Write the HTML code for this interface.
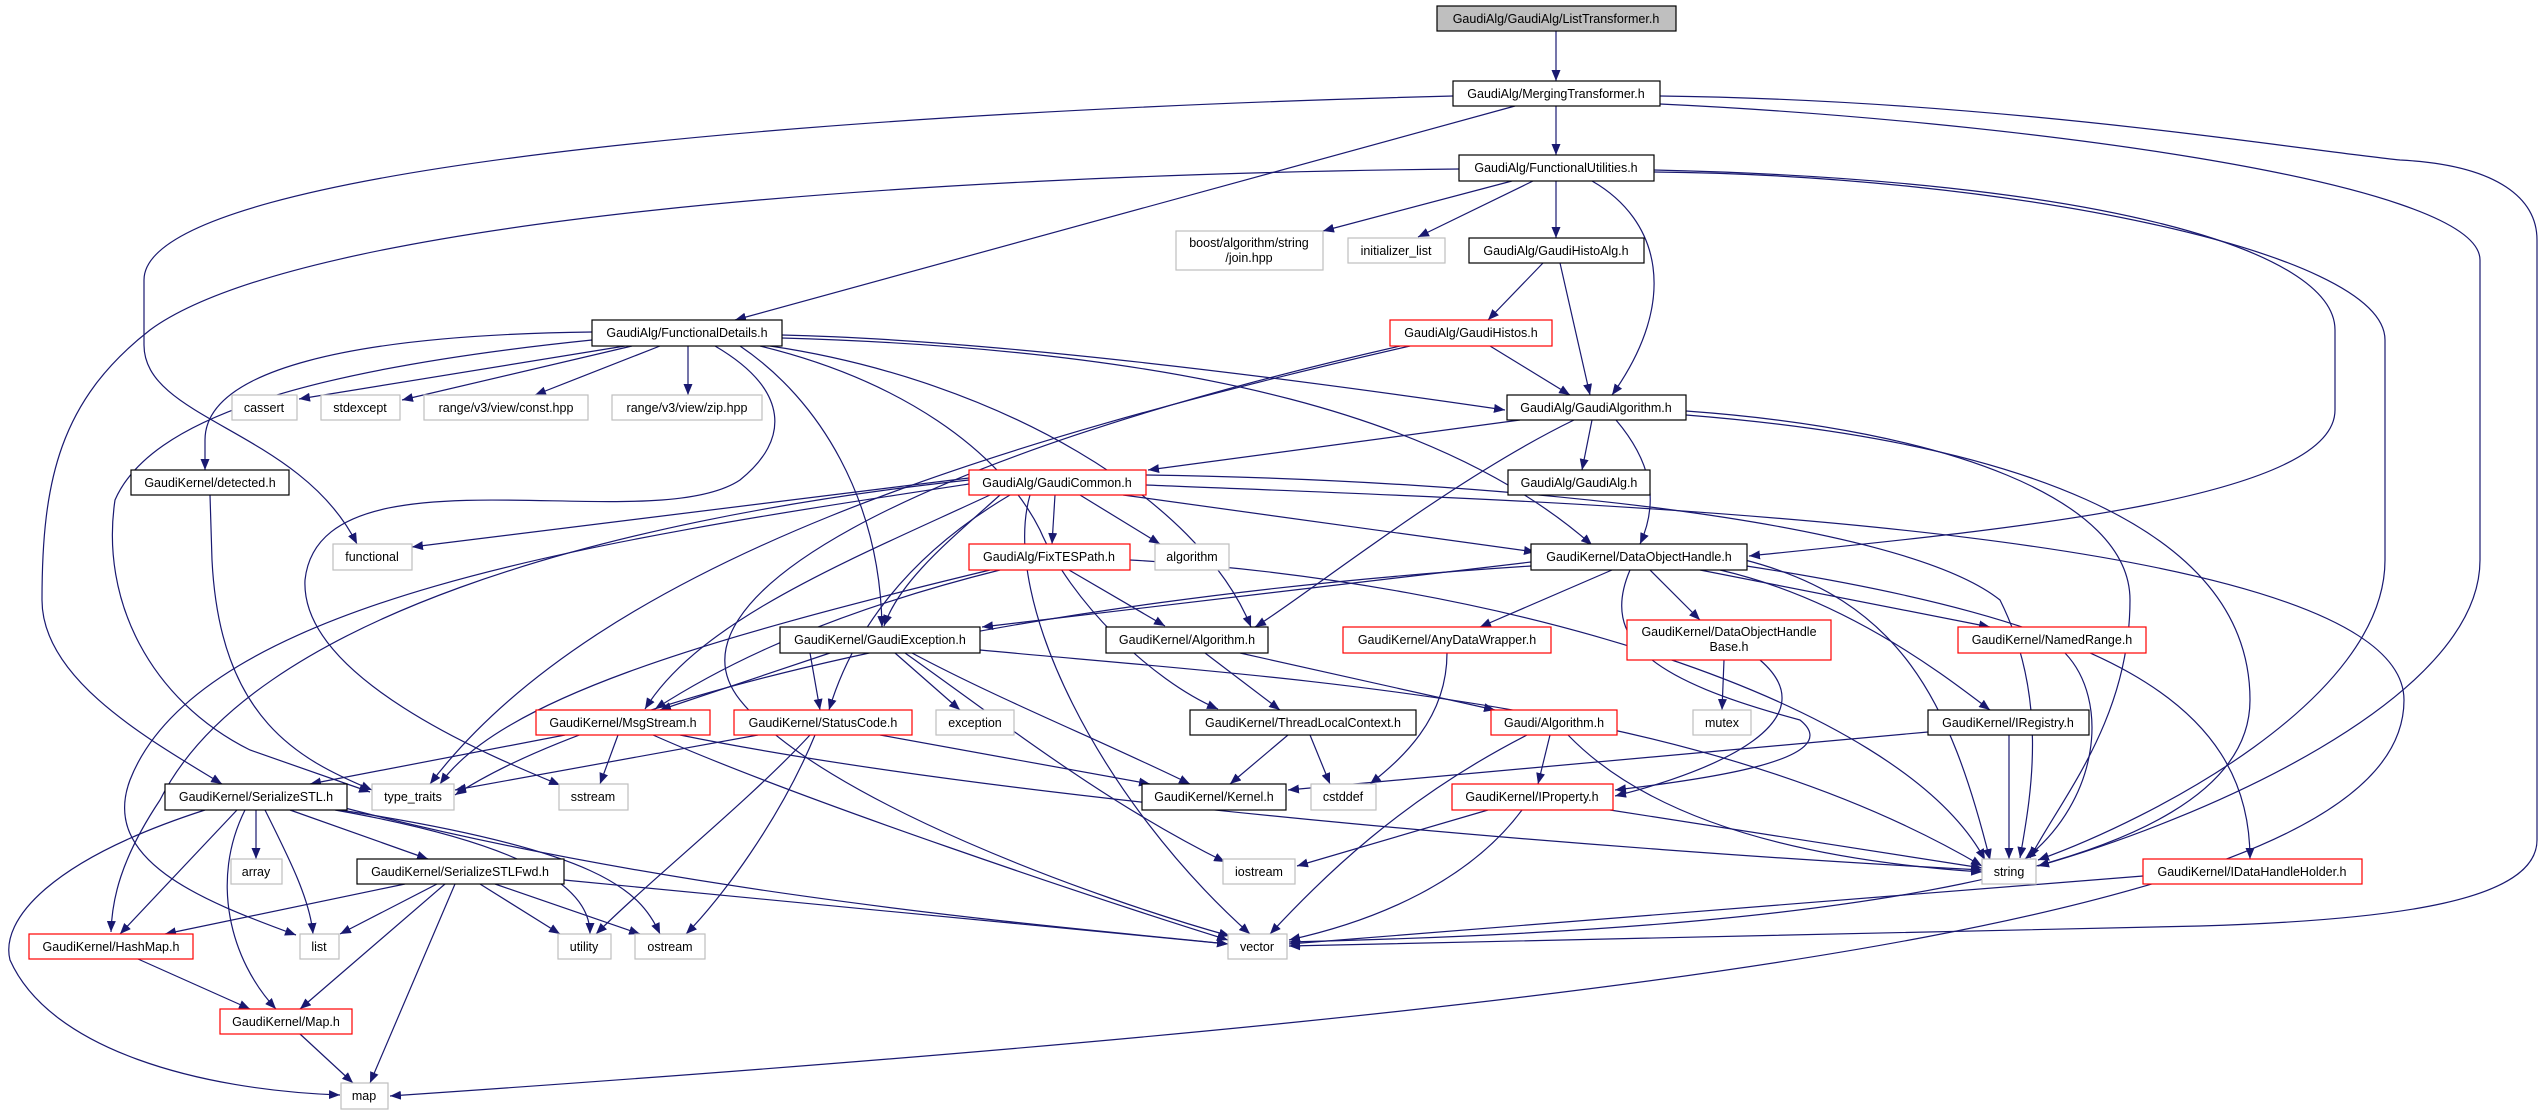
<!DOCTYPE html>
<html><head><meta charset="utf-8"><style>
html,body{margin:0;padding:0;background:#fff;}
svg{display:block}
text{font-family:"Liberation Sans",sans-serif;font-size:12.5px;fill:#000;text-anchor:middle;}
.e{fill:none;stroke:#191970;stroke-width:1.2}
.b{fill:#fff;stroke:#000;stroke-width:1.2}
.r{fill:#fff;stroke:#ff0000;stroke-width:1.2}
.g{fill:#fff;stroke:#bfbfbf;stroke-width:1.2}
</style></head><body>
<svg width="2543" height="1115" viewBox="0 0 2543 1115" xmlns="http://www.w3.org/2000/svg">
<defs><marker id="a" markerUnits="userSpaceOnUse" markerWidth="12" markerHeight="9" refX="11" refY="4.5" orient="auto"><path d="M0,0 L11,4.5 L0,9 z" fill="#191970"/></marker></defs>
<g class="e" marker-end="url(#a)">
<path d="M1556,31 L1556,81"/>
<path d="M1556,106 L1556,155"/>
<path d="M1515,106 L735,320"/>
<path d="M1453,96 C900,110 144,160 144,280 L144,345 C144,420 300,430 357,544"/>
<path d="M1660,104 C2000,120 2480,180 2480,260 L2480,560 C2480,700 2200,820 2038,866"/>
<path d="M1660,96 C2000,100 2300,150 2400,160 C2500,165 2537,200 2537,240 L2537,840 C2537,900 2400,920 2200,926 L1289,946"/>
<path d="M1459,169 C900,175 300,220 150,330 C60,400 42,480 42,600 C42,680 150,740 222,784"/>
<path d="M1512,181 L1323,231"/>
<path d="M1533,181 L1418,237"/>
<path d="M1556,181 L1556,238"/>
<path d="M1592,181 C1660,220 1680,300 1612,395"/>
<path d="M1654,170 C2100,180 2335,250 2335,330 L2335,410 C2335,500 2000,530 1749,556"/>
<path d="M1654,172 C2000,175 2385,250 2385,340 L2385,560 C2385,700 2150,820 2038,860"/>
<path d="M1543,263 L1488,320"/>
<path d="M1560,263 L1590,395"/>
<path d="M1490,346 L1570,395"/>
<path d="M1410,346 C1000,440 600,560 430,784"/>
<path d="M1400,346 C900,460 660,600 740,700 C820,800 1100,900 1230,936"/>
<path d="M625,346 L299,399"/>
<path d="M632,346 L402,400"/>
<path d="M660,346 L535,395"/>
<path d="M688,346 L688,395"/>
<path d="M592,332 C350,335 205,370 205,440 L205,470"/>
<path d="M592,340 C300,370 150,420 115,500 C100,600 150,700 250,750 L370,792"/>
<path d="M715,346 C790,390 790,440 740,480 C650,540 320,440 305,580 C300,680 500,760 560,785"/>
<path d="M782,335 C1000,340 1300,380 1505,410"/>
<path d="M740,346 C820,400 880,500 882,627"/>
<path d="M782,338 C1200,350 1450,420 1592,545"/>
<path d="M760,346 C900,380 1000,450 1040,530 C1070,600 1150,680 1218,709"/>
<path d="M770,346 C1000,380 1200,500 1251,627"/>
<path d="M1520,420 L1148,470"/>
<path d="M1592,420 L1582,470"/>
<path d="M1616,420 C1650,460 1660,500 1640,544"/>
<path d="M1574,420 C1450,480 1300,600 1255,627"/>
<path d="M1686,411 C1950,430 2130,500 2130,600 C2130,720 2060,800 2030,858"/>
<path d="M1686,415 C2000,440 2250,520 2250,700 C2250,880 1800,930 1289,942"/>
<path d="M1055,495 L1052,544"/>
<path d="M1080,495 L1160,544"/>
<path d="M1123,495 L1535,552"/>
<path d="M1000,495 C950,540 900,580 884,626"/>
<path d="M1010,495 C900,560 850,640 829,710"/>
<path d="M990,495 C850,560 700,620 645,709"/>
<path d="M969,480 C600,520 250,620 160,800 C120,860 112,900 111,932"/>
<path d="M969,484 C600,540 200,600 130,780 C100,860 200,900 296,935"/>
<path d="M969,478 L412,547"/>
<path d="M1030,495 C1000,600 1100,800 1250,934"/>
<path d="M1146,475 C1500,480 1900,520 2000,600 C2050,700 2030,800 2020,858"/>
<path d="M1146,485 C1500,500 2404,520 2404,700 C2404,900 1800,1000 390,1096"/>
<path d="M1069,570 L1165,626"/>
<path d="M990,570 C700,640 500,700 440,784"/>
<path d="M1000,570 C800,620 700,680 655,709"/>
<path d="M1130,560 C1500,580 1900,700 1985,860"/>
<path d="M1531,562 L982,627"/>
<path d="M1612,570 L1480,627"/>
<path d="M1650,570 L1700,620"/>
<path d="M1700,570 L1990,627"/>
<path d="M1720,570 C1850,600 1950,680 1990,710"/>
<path d="M1740,565 C2100,620 2250,700 2250,859"/>
<path d="M1745,560 C1900,600 1950,700 1990,860"/>
<path d="M1531,566 C1000,600 600,700 455,795"/>
<path d="M1630,570 C1600,640 1650,680 1800,720 C1850,760 1700,780 1615,790"/>
<path d="M1724,660 L1722,710"/>
<path d="M1760,660 C1830,720 1720,770 1615,796"/>
<path d="M1447,653 C1447,720 1400,760 1370,784"/>
<path d="M2065,653 C2110,700 2100,800 2025,859"/>
<path d="M2009,735 L2009,859"/>
<path d="M1928,732 L1288,790"/>
<path d="M1288,735 L1230,784"/>
<path d="M1310,735 L1330,784"/>
<path d="M1205,653 L1280,710"/>
<path d="M1240,653 L1495,710"/>
<path d="M1550,735 L1538,784"/>
<path d="M1527,735 C1400,800 1320,880 1270,934"/>
<path d="M1568,735 C1650,820 1800,860 1982,872"/>
<path d="M1488,810 L1297,866"/>
<path d="M1522,810 C1470,880 1380,920 1289,940"/>
<path d="M1610,810 L1982,868"/>
<path d="M2143,876 L1289,944"/>
<path d="M830,653 L660,710"/>
<path d="M810,653 L820,710"/>
<path d="M895,653 L960,710"/>
<path d="M912,653 C1000,700 1100,740 1190,784"/>
<path d="M905,653 C1000,720 1100,800 1225,862"/>
<path d="M980,650 C1300,680 1700,700 1982,866"/>
<path d="M565,735 L310,784"/>
<path d="M618,735 L600,784"/>
<path d="M653,735 C800,800 1100,900 1228,940"/>
<path d="M680,735 C1000,800 1600,850 1982,870"/>
<path d="M758,735 L455,790"/>
<path d="M810,735 C750,800 650,880 596,934"/>
<path d="M815,735 C780,820 720,900 686,934"/>
<path d="M880,735 L1150,784"/>
<path d="M205,810 C50,860 0,920 10,960 C50,1050 200,1090 340,1095"/>
<path d="M237,810 L120,934"/>
<path d="M256,810 L256,859"/>
<path d="M265,810 C290,860 310,900 313,934"/>
<path d="M290,810 L428,859"/>
<path d="M245,810 C210,880 230,960 276,1009"/>
<path d="M335,810 C560,850 590,900 590,934"/>
<path d="M340,810 C600,850 640,890 660,934"/>
<path d="M345,808 C700,900 1100,930 1228,944"/>
<path d="M405,884 L165,934"/>
<path d="M437,884 L340,934"/>
<path d="M445,884 L300,1009"/>
<path d="M455,884 L370,1083"/>
<path d="M480,884 L560,934"/>
<path d="M495,884 L640,934"/>
<path d="M564,880 L1228,944"/>
<path d="M138,959 L250,1009"/>
<path d="M300,1034 L353,1083"/>
<path d="M210,495 L212,560 C220,720 300,760 372,790"/>
</g>
<g>
<rect x="1437" y="6" width="239" height="25" fill="#bfbfbf" stroke="#000" stroke-width="1.2"/><text x="1556" y="23">GaudiAlg/GaudiAlg/ListTransformer.h</text>
<rect class="b" x="1453" y="81" width="207" height="25"/><text x="1556" y="98">GaudiAlg/MergingTransformer.h</text>
<rect class="b" x="1459" y="155" width="195" height="26"/><text x="1556" y="172">GaudiAlg/FunctionalUtilities.h</text>
<rect class="g" x="1176" y="231" width="147" height="39"/><text x="1249" y="247">boost/algorithm/string</text><text x="1249" y="262">/join.hpp</text>
<rect class="g" x="1348" y="238" width="97" height="25"/><text x="1396" y="255">initializer_list</text>
<rect class="b" x="1469" y="238" width="175" height="25"/><text x="1556" y="255">GaudiAlg/GaudiHistoAlg.h</text>
<rect class="r" x="1390" y="320" width="162" height="26"/><text x="1471" y="337">GaudiAlg/GaudiHistos.h</text>
<rect class="b" x="592" y="320" width="190" height="26"/><text x="687" y="337">GaudiAlg/FunctionalDetails.h</text>
<rect class="g" x="232" y="395" width="65" height="25"/><text x="264" y="412">cassert</text>
<rect class="g" x="321" y="395" width="79" height="25"/><text x="360" y="412">stdexcept</text>
<rect class="g" x="424" y="395" width="164" height="25"/><text x="506" y="412">range/v3/view/const.hpp</text>
<rect class="g" x="612" y="395" width="150" height="25"/><text x="687" y="412">range/v3/view/zip.hpp</text>
<rect class="b" x="1507" y="395" width="179" height="25"/><text x="1596" y="412">GaudiAlg/GaudiAlgorithm.h</text>
<rect class="b" x="131" y="470" width="158" height="25"/><text x="210" y="487">GaudiKernel/detected.h</text>
<rect class="r" x="969" y="470" width="177" height="25"/><text x="1057" y="487">GaudiAlg/GaudiCommon.h</text>
<rect class="b" x="1508" y="470" width="142" height="25"/><text x="1579" y="487">GaudiAlg/GaudiAlg.h</text>
<rect class="g" x="333" y="544" width="79" height="26"/><text x="372" y="561">functional</text>
<rect class="r" x="969" y="544" width="161" height="26"/><text x="1049" y="561">GaudiAlg/FixTESPath.h</text>
<rect class="g" x="1155" y="544" width="74" height="26"/><text x="1192" y="561">algorithm</text>
<rect class="b" x="1531" y="544" width="216" height="26"/><text x="1639" y="561">GaudiKernel/DataObjectHandle.h</text>
<rect class="b" x="780" y="627" width="200" height="26"/><text x="880" y="644">GaudiKernel/GaudiException.h</text>
<rect class="b" x="1106" y="627" width="162" height="26"/><text x="1187" y="644">GaudiKernel/Algorithm.h</text>
<rect class="r" x="1343" y="627" width="208" height="26"/><text x="1447" y="644">GaudiKernel/AnyDataWrapper.h</text>
<rect class="r" x="1627" y="620" width="204" height="40"/><text x="1729" y="636">GaudiKernel/DataObjectHandle</text><text x="1729" y="651">Base.h</text>
<rect class="r" x="1958" y="627" width="188" height="26"/><text x="2052" y="644">GaudiKernel/NamedRange.h</text>
<rect class="r" x="536" y="710" width="174" height="25"/><text x="623" y="727">GaudiKernel/MsgStream.h</text>
<rect class="r" x="734" y="710" width="178" height="25"/><text x="823" y="727">GaudiKernel/StatusCode.h</text>
<rect class="g" x="936" y="710" width="78" height="25"/><text x="975" y="727">exception</text>
<rect class="b" x="1190" y="710" width="226" height="25"/><text x="1303" y="727">GaudiKernel/ThreadLocalContext.h</text>
<rect class="r" x="1491" y="710" width="126" height="25"/><text x="1554" y="727">Gaudi/Algorithm.h</text>
<rect class="g" x="1693" y="710" width="58" height="25"/><text x="1722" y="727">mutex</text>
<rect class="b" x="1928" y="710" width="161" height="25"/><text x="2008" y="727">GaudiKernel/IRegistry.h</text>
<rect class="b" x="165" y="784" width="182" height="26"/><text x="256" y="801">GaudiKernel/SerializeSTL.h</text>
<rect class="g" x="372" y="784" width="82" height="26"/><text x="413" y="801">type_traits</text>
<rect class="g" x="559" y="784" width="69" height="26"/><text x="593" y="801">sstream</text>
<rect class="b" x="1142" y="784" width="144" height="26"/><text x="1214" y="801">GaudiKernel/Kernel.h</text>
<rect class="g" x="1311" y="784" width="65" height="26"/><text x="1343" y="801">cstddef</text>
<rect class="r" x="1452" y="784" width="161" height="26"/><text x="1532" y="801">GaudiKernel/IProperty.h</text>
<rect class="g" x="231" y="859" width="51" height="25"/><text x="256" y="876">array</text>
<rect class="b" x="357" y="859" width="207" height="25"/><text x="460" y="876">GaudiKernel/SerializeSTLFwd.h</text>
<rect class="g" x="1223" y="859" width="72" height="25"/><text x="1259" y="876">iostream</text>
<rect class="g" x="1982" y="859" width="54" height="25"/><text x="2009" y="876">string</text>
<rect class="r" x="2143" y="859" width="219" height="25"/><text x="2252" y="876">GaudiKernel/IDataHandleHolder.h</text>
<rect class="r" x="29" y="934" width="164" height="25"/><text x="111" y="951">GaudiKernel/HashMap.h</text>
<rect class="g" x="300" y="934" width="39" height="25"/><text x="319" y="951">list</text>
<rect class="g" x="558" y="934" width="53" height="25"/><text x="584" y="951">utility</text>
<rect class="g" x="635" y="934" width="70" height="25"/><text x="670" y="951">ostream</text>
<rect class="g" x="1228" y="934" width="59" height="25"/><text x="1257" y="951">vector</text>
<rect class="r" x="220" y="1009" width="132" height="25"/><text x="286" y="1026">GaudiKernel/Map.h</text>
<rect class="g" x="341" y="1083" width="47" height="26"/><text x="364" y="1100">map</text>
</g>
</svg>
</body></html>
